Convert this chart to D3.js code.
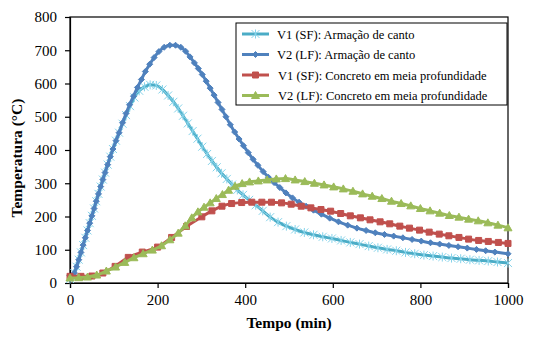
<!DOCTYPE html>
<html>
<head>
<meta charset="utf-8">
<script src="https://cdn.jsdelivr.net/npm/d3@7"></script>
<style>
  body { margin: 0; background: #fff; }
  svg { display: block; font-family: "Liberation Serif", "Times New Roman", serif; }
  .tick text { font-size: 15px; fill: #000; }
  .axis-title { font-size: 15.5px; font-weight: bold; fill: #000; }
  .legend text { font-size: 12.5px; fill: #000; }
</style>
</head>
<body>
<div id="chart"></div>
<script>
// V1 (SF): Armação de canto
var v1CantoTempo = [0, 5, 10, 15, 20, 25, 30, 35, 40, 45, 50, 55, 60, 65, 70, 75, 80, 86, 92, 98,
  105, 112, 120, 128, 137, 147, 158, 170, 183, 197, 211, 224, 236, 247, 258, 269, 280, 291, 302, 313,
  324, 335, 346, 358, 370, 382, 395, 409, 424, 440, 457, 475, 494, 514, 535, 556, 577, 598, 619, 640,
  661, 682, 703, 724, 745, 766, 787, 808, 829, 850, 871, 892, 913, 934, 955, 976, 1000];
var v1CantoTemp = [12, 18, 30, 49, 70, 92, 114, 136, 158, 180, 202, 224, 246, 268, 290, 311, 332, 356, 380, 403,
  428, 452, 479, 505, 532, 558, 578, 590, 596, 594, 582, 564, 545, 525, 503, 480, 457, 434, 410, 388,
  367, 348, 330, 313, 296, 280, 265, 250, 234, 217, 198, 183, 171, 161, 152, 145, 139, 134, 128, 122,
  117, 111, 106, 101, 97, 92, 88, 84, 81, 78, 75, 73, 70, 68, 66, 63, 60];

// V2 (LF): Armação de canto
var v2CantoTempo = [0, 5, 10, 15, 20, 25, 30, 35, 40, 45, 50, 55, 60, 65, 70, 75, 80, 86, 92, 98,
  105, 112, 120, 128, 136, 145, 154, 163, 172, 182, 192, 203, 215, 228, 241, 253, 264, 274, 284, 293,
  302, 311, 320, 329, 338, 347, 356, 366, 376, 386, 396, 407, 418, 429, 441, 453, 466, 479, 493, 508,
  523, 539, 556, 574, 593, 613, 634, 655, 676, 697, 718, 739, 760, 781, 802, 823, 844, 865, 886, 907,
  928, 949, 970, 1000];
var v2CantoTemp = [12, 18, 30, 49, 70, 92, 114, 136, 158, 180, 202, 224, 246, 268, 290, 311, 332, 356, 380, 403,
  428, 452, 482, 510, 536, 562, 588, 612, 636, 658, 678, 696, 709, 715, 715, 709, 697, 680, 662, 645,
  627, 607, 586, 565, 543, 522, 500, 476, 454, 433, 413, 392, 372, 354, 335, 318, 302, 287, 271, 256,
  243, 231, 219, 207, 195, 184, 174, 165, 158, 151, 146, 141, 136, 131, 126, 121, 117, 113, 109, 105,
  101, 97, 93, 88];

// V1 (SF): Concreto em meia profundidade
var v1ConcretoTempo = [0, 25, 50, 75, 103, 133, 165, 200, 232, 266, 301, 324, 347, 369, 392, 415, 438,
  460, 483, 505, 528, 550, 573, 595, 618, 640, 663, 685, 708, 730, 753, 775, 798, 820, 843, 865, 888,
  910, 933, 955, 978, 1000];
var v1ConcretoTemp = [20, 20, 21, 30, 50, 77, 93, 108, 137, 170, 199, 217, 231, 239, 242, 243, 243,
  243, 241, 237, 231, 226, 221, 216, 209, 202, 196, 190, 184, 178, 171, 165, 159, 153, 147, 142, 137,
  132, 128, 125, 122, 119];

// V2 (LF): Concreto em meia profundidade
var v2ConcretoTempo = [0, 20, 40, 61, 83, 104, 125, 146, 167, 188, 209, 228, 247, 263, 278, 292, 306,
  320, 334, 348, 362, 377, 393, 410, 430, 450, 471, 492, 514, 536, 558, 580, 602, 624, 646, 668, 690,
  712, 734, 756, 778, 800, 822, 844, 866, 888, 910, 932, 954, 977, 1000];
var v2ConcretoTemp = [15, 16, 18, 24, 36, 48, 62, 76, 88, 99, 112, 130, 150, 172, 196, 214, 228,
  241, 254, 266, 279, 291, 299, 304, 307, 310, 313, 314, 310, 305, 300, 295, 289, 283, 276, 268, 261,
  254, 246, 239, 232, 224, 217, 210, 203, 198, 192, 187, 181, 174, 166];

var seriesNames = [
  "V1 (SF): Armação de canto",
  "V2 (LF): Armação de canto",
  "V1 (SF): Concreto em meia profundidade",
  "V2 (LF): Concreto em meia profundidade"
];
var seriesTempo = [v1CantoTempo, v2CantoTempo, v1ConcretoTempo, v2ConcretoTempo];
var seriesTemp = [v1CantoTemp, v2CantoTemp, v1ConcretoTemp, v2ConcretoTemp];
var lineColors = ["#4BACC6", "#4F81BD", "#C0504D", "#9BBB59"];
var markerColors = ["#86D3EA", "#4F81BD", "#C0504D", "#9BBB59"];
var markerTypes = ["star", "diamond", "square", "triangle"];

var xTicks = [0, 200, 400, 600, 800, 1000];
var yTicks = [0, 100, 200, 300, 400, 500, 600, 700, 800];

var width = 538, height = 337;
var margin = {left: 70, right: 30, top: 17, bottom: 54};

var svg = d3.select("#chart").append("svg")
    .attr("width", width)
    .attr("height", height);

var x = d3.scaleLinear().domain([0, 1000]).range([margin.left, width - margin.right]);
var y = d3.scaleLinear().domain([0, 800]).range([height - margin.bottom, margin.top]);

// plot frame
svg.append("rect")
    .attr("x", x(0)).attr("y", y(800))
    .attr("width", x(1000) - x(0)).attr("height", y(0) - y(800))
    .attr("fill", "none").attr("stroke", "#000").attr("stroke-width", 1.2);

var xAxis = svg.append("g")
    .attr("transform", "translate(0," + y(0) + ")")
    .call(d3.axisBottom(x).tickValues(xTicks).tickSize(5).tickPadding(6).tickFormat(d3.format("d")));
var yAxis = svg.append("g")
    .attr("transform", "translate(" + x(0) + ",0)")
    .call(d3.axisLeft(y).tickValues(yTicks).tickSize(5).tickPadding(8).tickFormat(d3.format("d")));
[xAxis, yAxis].forEach(function(a) {
  a.select(".domain").attr("stroke", "#000").attr("stroke-width", 1.2);
  a.selectAll(".tick line").attr("stroke", "#000").attr("stroke-width", 1.2);
  a.attr("font-family", null).attr("font-size", null);
});

svg.append("text")
    .attr("class", "axis-title")
    .attr("text-anchor", "middle")
    .attr("x", (x(0) + x(1000)) / 2)
    .attr("y", 328)
    .text("Tempo (min)");

svg.append("text")
    .attr("class", "axis-title")
    .attr("text-anchor", "middle")
    .attr("transform", "translate(22," + ((y(0) + y(800)) / 2 + 8) + ") rotate(-90)")
    .text("Temperatura (°C)");

function markerPath(type) {
  if (type === "star") return "M-4,-4L4,4M-4,4L4,-4M0,-4.5L0,4.5";
  if (type === "diamond") return "M0,-3L3,0L0,3L-3,0Z";
  if (type === "square") return "M-3,-3L3,-3L3,3L-3,3Z";
  return "M0,-4L4,3L-4,3Z";
}

var line = d3.line()
    .x(function(d) { return x(d[0]); })
    .y(function(d) { return y(d[1]); })
    .curve(d3.curveMonotoneX);

seriesTemp.forEach(function(vals, i) {
  var pts = seriesTempo[i].map(function(t, k) { return [t, vals[k]]; });
  var g = svg.append("g");
  g.append("path")
      .datum(pts)
      .attr("fill", "none")
      .attr("stroke", lineColors[i])
      .attr("stroke-width", 3)
      .attr("d", line);
  g.selectAll("path.mk")
      .data(pts)
    .enter().append("path")
      .attr("class", "mk")
      .attr("transform", function(d) { return "translate(" + x(d[0]) + "," + y(d[1]) + ")"; })
      .attr("d", markerPath(markerTypes[i]))
      .attr("fill", markerTypes[i] === "star" ? "none" : markerColors[i])
      .attr("stroke", markerColors[i])
      .attr("stroke-width", 1);
});

// legend
var legend = svg.append("g").attr("class", "legend");
legend.append("rect")
    .attr("x", 236).attr("y", 23)
    .attr("width", 271).attr("height", 82)
    .attr("fill", "#fff").attr("stroke", "#000").attr("stroke-width", 1);

seriesNames.forEach(function(name, i) {
  var ly = 34 + i * 20.5;
  var row = legend.append("g");
  row.append("line")
      .attr("x1", 242).attr("x2", 269)
      .attr("y1", ly).attr("y2", ly)
      .attr("stroke", lineColors[i]).attr("stroke-width", 3);
  row.append("path")
      .attr("transform", "translate(255.5," + ly + ")")
      .attr("d", markerPath(markerTypes[i]))
      .attr("fill", markerTypes[i] === "star" ? "none" : markerColors[i])
      .attr("stroke", markerColors[i])
      .attr("stroke-width", 1);
  row.append("text")
      .attr("x", i < 2 ? 277 : 278)
      .attr("y", ly + 4.5)
      .text(name);
});
</script>
</body>
</html>
